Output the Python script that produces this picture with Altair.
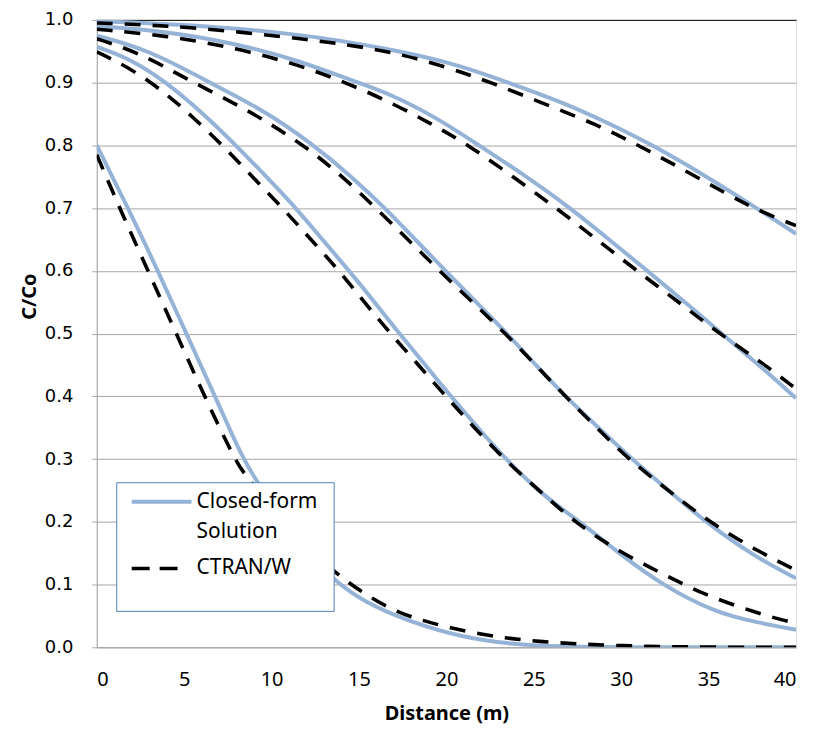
import altair as alt
import pandas as pd

# ---- data ----
# Closed-form solution (solid light-blue)
cf_A_x = [0, 1.79, 3.5, 5.12, 6.77, 8.35, 9.2, 10, 11, 12, 13, 13.6, 15.2, 18.05, 20.9, 23.7, 26.4, 30, 40]
cf_A_y = [0.80, 0.70, 0.60, 0.50, 0.40, 0.30, 0.263, 0.23, 0.19, 0.155, 0.125, 0.107, 0.073, 0.039, 0.016, 0.005, 0.001, 0.0, 0.0]
cf_B_x = [0, 2, 4, 6, 7.97, 9.7, 11.4, 12.9, 14.44, 15.9, 17.3, 18.8, 20.25, 21.8, 23.38, 25.6, 27.66, 30, 32.3, 35.4, 37.7, 40]
cf_B_y = [0.957, 0.937, 0.900, 0.853, 0.80, 0.75, 0.70, 0.65, 0.60, 0.55, 0.50, 0.45, 0.40, 0.35, 0.30, 0.24, 0.20, 0.147, 0.10, 0.055, 0.040, 0.028]
cf_C_x = [0, 3, 6.45, 9.5, 12.44, 14.5, 16.5, 18.2, 19.96, 21.7, 23.48, 25.1, 26.8, 28.7, 30.6, 32.7, 34.8, 37.65, 40]
cf_C_y = [0.975, 0.952, 0.90, 0.857, 0.80, 0.752, 0.70, 0.65, 0.60, 0.55, 0.50, 0.45, 0.40, 0.35, 0.30, 0.25, 0.20, 0.144, 0.110]
cf_D_x = [0, 4, 8, 11.6, 14.9, 16.7, 19.4, 21.86, 24.5, 27.1, 29.3, 31.5, 33.66, 35.75, 38, 40]
cf_D_y = [0.99, 0.982, 0.962, 0.935, 0.90, 0.883, 0.845, 0.80, 0.752, 0.70, 0.65, 0.60, 0.55, 0.50, 0.447, 0.397]
cf_E_x = [0, 5, 11.6, 16.7, 20.15, 23.57, 26.5, 28.7, 31.85, 34.9, 37.75, 40]
cf_E_y = [0.998, 0.993, 0.978, 0.954, 0.933, 0.90, 0.87, 0.843, 0.80, 0.75, 0.70, 0.659]

# CTRAN/W (dashed black)
ct_A_x = [0, 1.31, 2.93, 4.55, 6.16, 7.88, 8.54, 10, 11, 12, 13, 14.25, 16.7, 19.0, 21.9, 25.3, 30, 35, 40]
ct_A_y = [0.785, 0.70, 0.60, 0.50, 0.40, 0.30, 0.272, 0.225, 0.193, 0.163, 0.135, 0.105, 0.06, 0.039, 0.02, 0.008, 0.002, 0.0, 0.0]
ct_B_x = [0, 2, 4, 5.5, 7.2, 8.9, 10.63, 12.25, 13.87, 15.3, 16.8, 18.4, 19.96, 21.6, 23.29, 25.3, 27.3, 30, 33.1, 34.6, 37.65, 40]
ct_B_y = [0.949, 0.922, 0.882, 0.845, 0.80, 0.75, 0.70, 0.65, 0.60, 0.55, 0.50, 0.45, 0.40, 0.35, 0.30, 0.25, 0.20, 0.15, 0.107, 0.086, 0.055, 0.038]
ct_C_x = [0, 2.5, 5.3, 8.7, 11.87, 14, 15.96, 17.8, 19.6, 21.5, 23.38, 25.1, 26.8, 28.6, 30.4, 32.7, 35.0, 38.0, 40]
ct_C_y = [0.97, 0.947, 0.903, 0.856, 0.80, 0.752, 0.70, 0.65, 0.60, 0.55, 0.50, 0.45, 0.40, 0.35, 0.30, 0.25, 0.20, 0.15, 0.123]
ct_D_x = [0, 4, 8, 11.6, 14.25, 16.7, 19.1, 21.3, 23.8, 26.3, 28.6, 30.9, 33.3, 35.6, 38, 40]
ct_D_y = [0.985, 0.975, 0.955, 0.928, 0.90, 0.87, 0.835, 0.80, 0.75, 0.70, 0.65, 0.60, 0.55, 0.50, 0.455, 0.412]
ct_E_x = [0, 5, 12.2, 16.7, 20, 22.6, 25.7, 28.7, 31.0, 34.3, 37.46, 40]
ct_E_y = [0.995, 0.99, 0.969, 0.951, 0.925, 0.90, 0.865, 0.832, 0.80, 0.75, 0.70, 0.672]

x_ticks = [0, 5, 10, 15, 20, 25, 30, 35, 40]
y_ticks = [0.0, 0.1, 0.2, 0.3, 0.4, 0.5, 0.6, 0.7, 0.8, 0.9, 1.0]

legend_labels = ["Closed-form", "Solution", "CTRAN/W"]

BLUE = "#95B3D7"
GRID = "#A6A6A6"


def build(series, method):
    rows = []
    for name, (xs, ys) in series.items():
        for xv, yv in zip(xs, ys):
            rows.append({"x": xv, "y": yv, "curve": name, "method": method})
    return pd.DataFrame(rows)


cf_df = build({"A": (cf_A_x, cf_A_y), "B": (cf_B_x, cf_B_y), "C": (cf_C_x, cf_C_y),
               "D": (cf_D_x, cf_D_y), "E": (cf_E_x, cf_E_y)}, "Closed-form Solution")
ct_df = build({"A": (ct_A_x, ct_A_y), "B": (ct_B_x, ct_B_y), "C": (ct_C_x, ct_C_y),
               "D": (ct_D_x, ct_D_y), "E": (ct_E_x, ct_E_y)}, "CTRAN/W")

x_enc = alt.X("x:Q", scale=alt.Scale(domain=[0, 40], nice=False, zero=False),
              axis=alt.Axis(values=x_ticks, grid=False, ticks=False, domainColor=GRID,
                            labelFont="Noto Sans", labelFontSize=20, labelColor="black",
                            labelPadding=22, title="Distance (m)", titleFont="Noto Sans",
                            titleFontSize=20, titleFontWeight="bold", titleColor="black",
                            titleY=66, titleBaseline="middle"))
y_enc = alt.Y("y:Q", scale=alt.Scale(domain=[0, 1], nice=False),
              axis=alt.Axis(values=y_ticks, format=".1f", grid=True,
                            gridColor={"condition": {"test": "datum.value >= 1", "value": "black"}, "value": GRID},
                            gridWidth=1, domainColor=GRID, tickColor=GRID, tickSize=5,
                            labelFont="DejaVu Sans", labelFontSize=18, labelColor="black",
                            labelPadding=19, title="C/Co", titleFont="Noto Sans",
                            titleFontSize=20, titleFontWeight="bold", titleColor="black",
                            titleX=-67, titleY=277, titleAngle=-90, titleAlign="center",
                            titleBaseline="middle"))

cf_layer = alt.Chart(cf_df).mark_line(color=BLUE, strokeWidth=4, interpolate="basis", clip=True).encode(
    x=x_enc, y=y_enc, detail="curve:N")
ct_layer = alt.Chart(ct_df).mark_line(color="black", strokeWidth=3.6, strokeDash=[16, 12],
                                      interpolate="basis", clip=True).encode(
    x="x:Q", y="y:Q", detail="curve:N")

one = pd.DataFrame({"k": [0]})
leg_box = alt.Chart(one).mark_rect(fill="white", stroke="#4F81BD", strokeWidth=1).encode(
    x=alt.value(20), x2=alt.value(238), y=alt.value(464), y2=alt.value(593))
leg_solid = alt.Chart(one).mark_rule(color=BLUE, strokeWidth=4).encode(
    x=alt.value(35), x2=alt.value(95), y=alt.value(483))
leg_dash = alt.Chart(one).mark_rule(color="black", strokeWidth=3.6, strokeDash=[18, 10]).encode(
    x=alt.value(35), x2=alt.value(81), y=alt.value(550))


def leg_text(t, yv):
    return alt.Chart(one).mark_text(align="left", baseline="middle", font="Noto Sans",
                                    fontSize=21, color="black", text=t).encode(
        x=alt.value(100), y=alt.value(yv))


chart = alt.layer(
    cf_layer, ct_layer, leg_box, leg_solid, leg_dash,
    leg_text(legend_labels[0], 483), leg_text(legend_labels[1], 513), leg_text(legend_labels[2], 550)
).properties(
    width=701, height=629,
    autosize=alt.AutoSizeParams(type="none"),
    padding={"left": 89, "top": 11, "right": 10, "bottom": 78},
).configure_view(stroke="black", strokeWidth=1).configure(background="white")

chart.save("out.html", embed_options={"renderer": "svg", "actions": False})
